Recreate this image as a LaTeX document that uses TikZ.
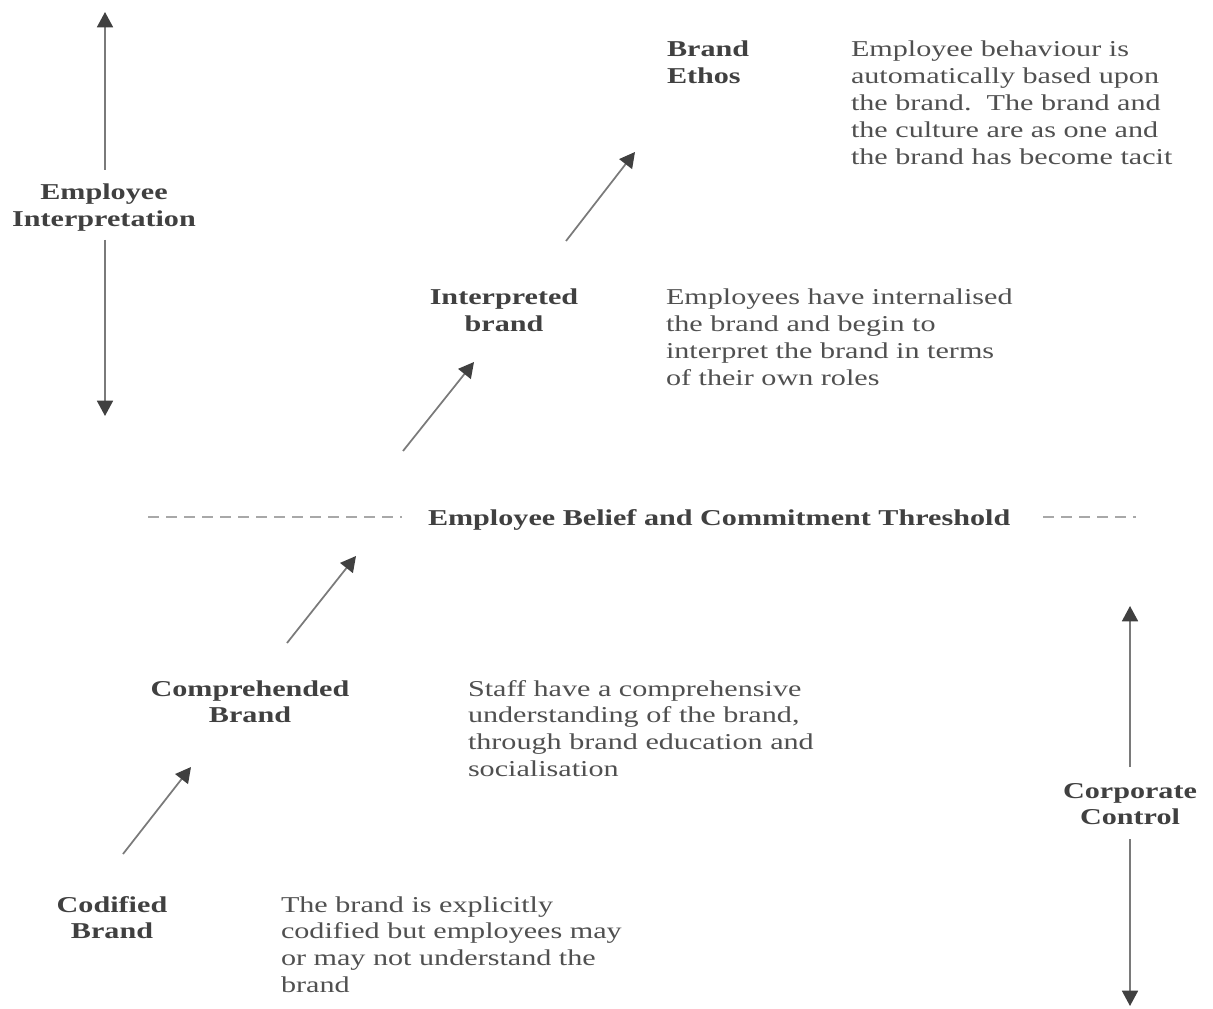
\documentclass[tikz,border=0pt]{standalone}
\usepackage{fontspec}
\setmainfont{Liberation Serif}
\usepackage{graphicx}
\usetikzlibrary{arrows.meta}
\definecolor{txt}{HTML}{505050}
\definecolor{btxt}{HTML}{404040}
\definecolor{ln}{HTML}{7A7A7A}
\definecolor{hd}{HTML}{404040}
\definecolor{dsh}{HTML}{A8A8A8}
\newcommand{\wideL}[1]{\scalebox{1.33}[1]{\begin{tabular}[t]{@{}l@{}}#1\end{tabular}}}
\newcommand{\wideC}[1]{\scalebox{1.33}[1]{\begin{tabular}[t]{@{}c@{}}#1\end{tabular}}}
\begin{document}
\begin{tikzpicture}[x=0.75pt,y=-0.75pt,
  every node/.style={inner sep=0pt,outer sep=0pt,font=\fontsize{17}{20.1}\selectfont},
  desc/.style={anchor=base west,text=txt},
  lbl/.style={anchor=base,text=btxt,font=\fontsize{17}{20.1}\selectfont\bfseries},
  lblL/.style={anchor=base west,text=btxt,font=\fontsize{17}{20.1}\selectfont\bfseries},
  arr/.style={draw=ln,line width=1.3pt,-{Triangle[length=11.5pt,width=12pt,color=hd]}},
  dline/.style={draw=dsh,line width=1.4pt,dash pattern=on 8.5pt off 5pt}]
\fill[white] (0,0) rectangle (1213,1009);
\useasboundingbox (0,0) rectangle (1213,1009);

% vertical axis labels
\node[lbl] (ei) at (104,200) {\wideC{Employee\\Interpretation}};
\node[lbl] (cc) at (1130,798) {\wideC{Corporate\\Control}};
\coordinate (eitop) at (105,12);
\coordinate (eia) at (105,170);
\coordinate (eib) at (105,240);
\coordinate (eibot) at (105,416);
\draw[arr] (eia) -- (eitop);
\draw[arr] (eib) -- (eibot);
\coordinate (cctop) at (1130,606);
\coordinate (cca) at (1130,767);
\coordinate (ccb) at (1130,839);
\coordinate (ccbot) at (1130,1006);
\draw[arr] (cca) -- (cctop);
\draw[arr] (ccb) -- (ccbot);

% stages
\node[lblL] (ethos) at (667,57) {\wideL{Brand\\Ethos}};
\node[desc] (ethosd) at (851,57) {\wideL{Employee behaviour is\\automatically based upon\\the brand.\ \ The brand and\\the culture are as one and\\the brand has become tacit}};

\node[lbl] (interp) at (504,305) {\wideC{Interpreted\\brand}};
\node[desc] (interpd) at (666,305) {\wideL{Employees have internalised\\the brand and begin to\\interpret the brand in terms\\of their own roles}};

\node[lbl] (comp) at (250,696) {\wideC{Comprehended\\Brand}};
\node[desc] (compd) at (468,696) {\wideL{Staff have a comprehensive\\understanding of the brand,\\through brand education and\\socialisation}};

\node[lbl] (cod) at (112,912) {\wideC{Codified\\Brand}};
\node[desc] (codd) at (281,912) {\wideL{The brand is explicitly\\codified but employees may\\or may not understand the\\brand}};

% threshold
\node[lblL] (thr) at (428,525) {\scalebox{1.33}[1]{Employee Belief and Commitment Threshold}};
\coordinate (d1a) at (148,517);
\coordinate (d1b) at (402,517);
\coordinate (d2a) at (1043,517);
\coordinate (d2b) at (1136,517);
\draw[dline] (d1a) -- (d1b);
\draw[dline] (d2a) -- (d2b);

% diagonal arrows
\coordinate (a1s) at (123,854); \coordinate (a1e) at (191,767);
\coordinate (a2s) at (287,643); \coordinate (a2e) at (356,556);
\coordinate (a3s) at (403,451); \coordinate (a3e) at (474,362);
\coordinate (a4s) at (566,241); \coordinate (a4e) at (635,152);
\draw[arr] (a1s) -- (a1e);
\draw[arr] (a2s) -- (a2e);
\draw[arr] (a3s) -- (a3e);
\draw[arr] (a4s) -- (a4e);
\end{tikzpicture}
\end{document}
